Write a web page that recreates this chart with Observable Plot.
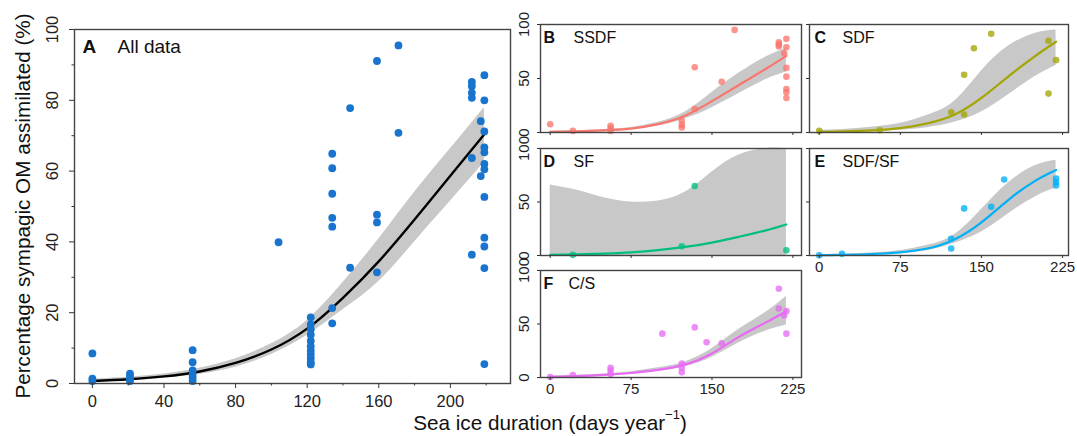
<!DOCTYPE html>
<html><head><meta charset="utf-8">
<script src="https://cdn.jsdelivr.net/npm/d3@7"></script>
<script src="https://cdn.jsdelivr.net/npm/@observablehq/plot@0.6"></script>
<style>
body{margin:0;background:#fff;font-family:Arial,"Liberation Sans",Helvetica,sans-serif;}
#root{position:relative;width:1077px;height:436px;overflow:hidden;background:#fff}
.t{position:absolute;white-space:nowrap;line-height:1;color:#111;font-size:20.7px}
</style></head><body><div id="root"></div>
<script>
// ---------- Panel A: all data ----------
const allDays = [0,0,0, 21,21,21,21, 56,56,56,56,56,56, 104,
  122,122,122,122,122,122,122,122,122,122,122,
  134,134,134,134,134,134,134, 144,144, 159,159,159,159, 171,171,
  212,212,212,212,212,212, 217,217,
  219,219,219,219,219,219,219,219,219,219,219,219];
const allPct = [8.5,1.4,0.7, 2.8,2.2,1.3,0.7, 9.4,6.0,3.7,2.5,1.6,0.7, 39.9,
  18.7,16.7,15.3,13.8,12.0,10.5,9.3,8.2,7.1,6.0,5.4,
  64.9,60.8,53.6,46.8,44.3,21.3,17.0, 77.8,32.7, 91.1,47.7,45.5,31.4, 95.5,70.8,
  85.2,84.0,82.1,80.7,63.7,36.4, 74.1,58.6,
  87.1,80.0,71.2,66.7,65.3,62.0,60.5,52.7,41.2,38.7,32.6,5.5];
const allFitDays = [0,20,40,60,80,100,120,140,160,180,200,219];
const allFit = [0.7,1.2,2.0,3.4,5.8,9.6,15.5,24.2,34.5,46.3,58.7,70.4];
const allLo  = [0.4,0.8,1.5,2.6,4.6,8.2,13.6,20.8,28.8,40.0,51.5,62.5];
const allHi  = [1.2,1.8,2.7,4.3,7.0,11.2,17.8,28.5,40.8,54.0,66.3,78.0];
const aXMajor = [0,40,80,120,160,200];
const aXMinor = [20,60,100,140,180,220];
const aYMajor = [0,20,40,60,80,100];
const aYMinor = [10,30,50,70,90];

// ---------- Small panels ----------
const smallFitDays = [0,25,50,75,100,125,150,175,200,219];
const smallXTicks = [0,75,150,225];
const smallYTicks = [0,50,100];

const ssdfDays = [0,21,56,56,56,122,122,122,134,134,159,171,212,212,212,217,219,219,219,219,219,219,219];
const ssdfPct  = [7.7,1.5,6.2,4.0,1.5,10.8,7.1,4.6,60.4,21.7,47.0,95.0,83.6,81.4,79.6,73.4,86.7,79.0,59.8,51.7,40.2,37.2,31.9];
const ssdfFit = [0.6,1.1,2.0,3.6,7.7,15.5,29,44,59,71];
const ssdfLo  = [0.3,0.7,1.4,2.7,6.0,12.5,23,36,49,56];
const ssdfHi  = [1.2,1.7,2.8,4.7,9.5,19,37,55,70,78];

const sdfDays = [0,56,122,134,134,143,159,212,212,219];
const sdfPct  = [1.5,2.0,18.7,53.4,16.6,78.0,91.5,85.0,36.0,67.0];
const sdfFit = [0.5,1.0,2.0,4.0,8.5,16.5,32,52,71,84];
const sdfLo  = [0.1,0.3,0.8,2.0,4.5,9.5,19,35,52,62];
const sdfHi  = [2,3,5,8.5,16,29,57,80,92,95];

const sfDays = [21,122,134,219];
const sfPct  = [0.6,8.7,65.0,4.8];
const sfFit = [0.5,1.0,1.8,3.0,5.0,8.0,12,17.5,23.5,29];
const sfLo  = [0,0,0,0,0,0,0,0,0,0];
const sfHi  = [66,61,54,50,51,59,78,94,100,100];

const sdfsfDays = [0,21,122,122,134,159,171,219,219,219];
const sdfsfPct  = [0.3,1.6,15.7,6.6,44.0,45.6,71.0,72.0,68.5,65.5];
const sdfsfFit = [0.3,0.7,1.4,3.0,6.5,15,31,52,70,80];
const sdfsfLo  = [0.1,0.3,0.8,2.0,4.5,11.5,22,39,55,63];
const sdfsfHi  = [0.8,1.4,2.5,4.7,9.5,19.5,43,68,84,89];

const csDays = [0,21,56,56,56,104,122,122,122,134,145,159,212,212,217,219,219];
const csPct  = [0.5,2.3,9.0,6.5,3.2,41.0,13.0,9.0,4.8,46.8,33.0,32.0,83.0,64.5,58.0,62.0,41.0];
const csFit = [0.6,1.3,2.4,4.2,7.2,12,22.5,38,51.5,62];
const csLo  = [0.3,0.8,1.8,3.3,5.8,10,19,32.5,43.5,49];
const csHi  = [1.1,2.0,3.2,5.4,9.0,14.5,27,45,61,76];

const panelColors = ["#F8766D","#A3A500","#00BF7D","#00B0F6","#E76BF3"];
const panelLetters = ["B","C","D","E","F"];
const panelNames = ["SSDF","SDF","SF","SDF/SF","C/S"];

// ---------- helpers ----------
const root = document.getElementById("root");
const FONT = "Arial, 'Liberation Sans', Helvetica, sans-serif";
function place(el, left, top) {
  el.style.position = "absolute";
  el.style.left = left + "px";
  el.style.top = top + "px";
  root.appendChild(el);
}
const zipPts = (xs, ys) => xs.map((d, i) => ({d, v: ys[i]}));
const zipFit = (xs, v, lo, hi) => xs.map((d, i) => ({d, v: v[i], lo: lo[i], hi: hi[i]}));

// ---------- Panel A ----------
const A = Plot.plot({
  width: 520, height: 436,
  marginLeft: 74, marginRight: 10, marginTop: 29, marginBottom: 53,
  x: {domain: [-10, 233.6]},
  y: {domain: [0, 100]},
  style: {fontFamily: FONT, fontSize: "16.5px", color: "#333", background: "transparent", overflow: "visible"},
  marks: [
    Plot.areaY(zipFit(allFitDays, allFit, allLo, allHi), {x: "d", y1: "lo", y2: "hi", fill: "#c8c8c8", curve: "natural"}),
    Plot.line(zipFit(allFitDays, allFit, allLo, allHi), {x: "d", y: "v", stroke: "#000", strokeWidth: 2.4, curve: "natural"}),
    Plot.dot(zipPts(allDays, allPct), {x: "d", y: "v", r: 3.9, fill: "#1874CD"}),
    Plot.frame({stroke: "#444", strokeWidth: 1.4}),
    Plot.axisX({ticks: aXMajor, tickSize: 5, tickPadding: 7, tickFormat: d => String(d), label: null, fill: "#222"}),
    Plot.axisX({ticks: aXMinor, tickSize: 2.5, tickFormat: () => "", label: null}),
    Plot.axisY({ticks: aYMajor, tickSize: 5, tickFormat: () => "", label: null}),
    Plot.axisY({ticks: aYMinor, tickSize: 2.5, tickFormat: () => "", label: null}),
    Plot.text(aYMajor, {y: d => d, text: d => String(d), frameAnchor: "left", dx: -22, rotate: -90, textAnchor: "middle", lineAnchor: "middle", fill: "#222"}),
    Plot.text(["A"], {text: d => d, frameAnchor: "top-left", dx: 8, dy: 10, textAnchor: "start", lineAnchor: "top", fontWeight: "bold", fontSize: 19, fill: "#111"}),
    Plot.text(["All data"], {text: d => d, frameAnchor: "top-left", dx: 43, dy: 10, textAnchor: "start", lineAnchor: "top", fontSize: 19, fill: "#111"})
  ]
});
place(A, 0, 0);

// ---------- small panels ----------
function small(i, days, pct, fit, lo, hi, fl, ft, fw, fh, xdom, showY, showX, letterDx, nameDx) {
  const ml = 40, mr = 12, mt = 12, mb = 30;
  const color = panelColors[i];
  const fitData = zipFit(smallFitDays, fit, lo, hi);
  const marks = [
    Plot.areaY(fitData, {x: "d", y1: "lo", y2: "hi", fill: "#c8c8c8", curve: "natural"}),
    Plot.line(fitData, {x: "d", y: "v", stroke: color, strokeWidth: 2.2, curve: "natural"}),
    Plot.dot(zipPts(days, pct), {x: "d", y: "v", r: 3.3, fill: color, fillOpacity: 0.78}),
    Plot.frame({stroke: "#444", strokeWidth: 1.4}),
    Plot.axisX({ticks: smallXTicks, tickSize: 3, tickPadding: 3, tickFormat: showX ? (d => String(d)) : (() => ""), label: null, fill: "#222"}),
    Plot.axisY({ticks: smallYTicks, tickSize: 3, tickFormat: () => "", label: null}),
    Plot.text([panelLetters[i]], {text: d => d, frameAnchor: "top-left", dx: letterDx, dy: 7, textAnchor: "start", lineAnchor: "top", fontWeight: "bold", fontSize: 16, fill: "#111"}),
    Plot.text([panelNames[i]], {text: d => d, frameAnchor: "top-left", dx: nameDx, dy: 7, textAnchor: "start", lineAnchor: "top", fontSize: 16, fill: "#111"})
  ];
  if (showY) marks.push(Plot.text(smallYTicks, {y: d => d, text: d => String(d), frameAnchor: "left", dx: -16, rotate: -90, textAnchor: "middle", lineAnchor: "middle", fill: "#222"}));
  const p = Plot.plot({
    width: fw + ml + mr, height: fh + mt + mb,
    marginLeft: ml, marginRight: mr, marginTop: mt, marginBottom: mb,
    x: {domain: xdom}, y: {domain: [0, 100]},
    style: {fontFamily: FONT, fontSize: "15px", color: "#333", background: "transparent", overflow: "visible"},
    marks
  });
  place(p, fl - ml, ft - mt);
}
const leftDom = [-9, 233], rightDom = [-9, 230.5];
small(0, ssdfDays, ssdfPct, ssdfFit, ssdfLo, ssdfHi, 540, 24, 261, 108, leftDom, true, false, 3, 33);
small(1, sdfDays, sdfPct, sdfFit, sdfLo, sdfHi, 809, 24, 259, 108, rightDom, false, false, 5, 33);
small(2, sfDays, sfPct, sfFit, sfLo, sfHi, 540, 148, 261, 107, leftDom, true, false, 3, 33);
small(3, sdfsfDays, sdfsfPct, sdfsfFit, sdfsfLo, sdfsfHi, 809, 148, 259, 107, rightDom, false, true, 5, 33);
small(4, csDays, csPct, csFit, csLo, csHi, 540, 270, 261, 107, leftDom, true, true, 3, 28);

// ---------- axis titles ----------
const xt = document.createElement("div");
xt.className = "t";
xt.innerHTML = "Sea ice duration (days year<sup style=\"font-size:13px;position:relative;top:-3px\">\u22121</sup>)";
xt.style.left = "550px"; xt.style.top = "411px"; xt.style.transform = "translateX(-50%)";
root.appendChild(xt);

const yt = document.createElement("div");
yt.className = "t";
yt.textContent = "Percentage sympagic OM assimilated (%)";
yt.style.left = "23px"; yt.style.top = "206px";
yt.style.transform = "translate(-50%,-50%) rotate(-90deg)";
root.appendChild(yt);
</script>
</body></html>
